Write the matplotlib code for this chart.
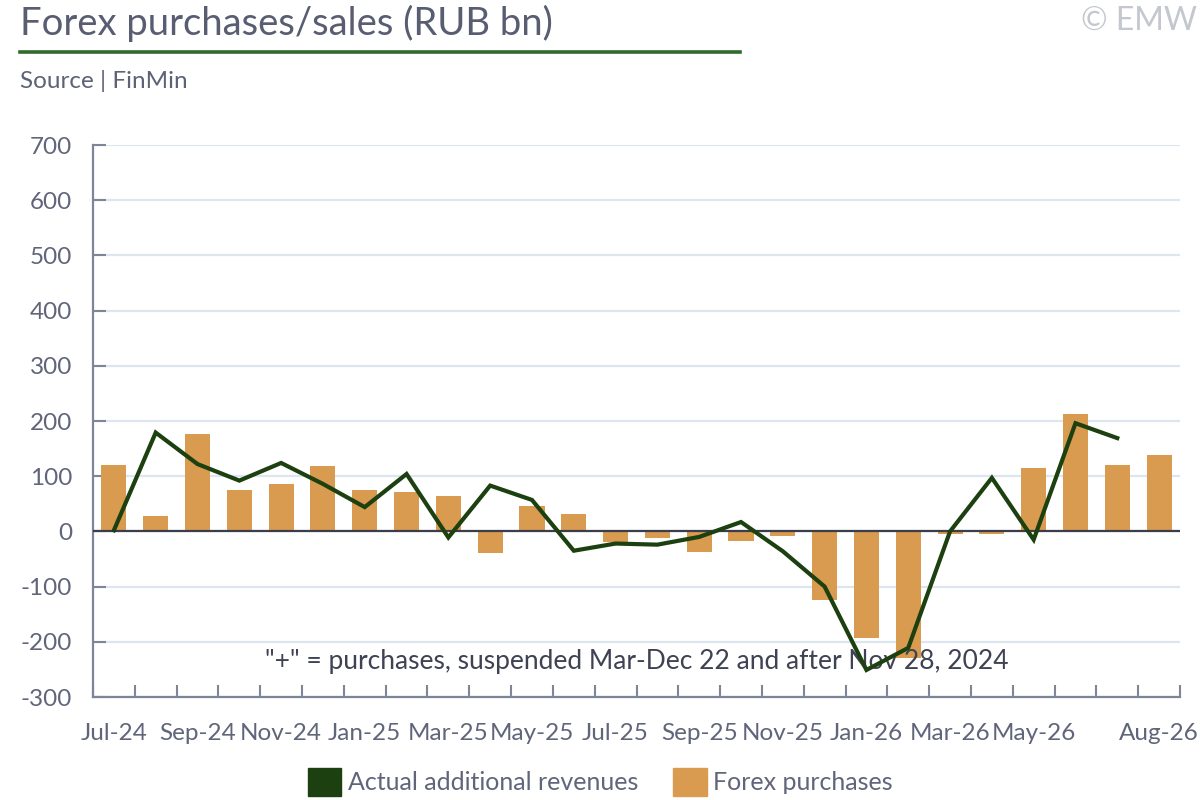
import matplotlib
matplotlib.use("Agg")
import matplotlib.pyplot as plt
from matplotlib.patches import Patch
from matplotlib.lines import Line2D
import numpy as np

plt.rcParams['font.family'] = ['Lato', 'DejaVu Sans']

# monthly data, Jul-24 .. Aug-26
months = ['Jul-24', 'Aug-24', 'Sep-24', 'Oct-24', 'Nov-24', 'Dec-24',
          'Jan-25', 'Feb-25', 'Mar-25', 'Apr-25', 'May-25', 'Jun-25',
          'Jul-25', 'Aug-25', 'Sep-25', 'Oct-25', 'Nov-25', 'Dec-25',
          'Jan-26', 'Feb-26', 'Mar-26', 'Apr-26', 'May-26', 'Jun-26',
          'Jul-26', 'Aug-26']
forex_purchases = [121, 27, 177, 75, 86, 118, 75, 71, 64, -40, 46, 31,
                   -19, -12, -37, -18, -8, -125, -193, -230, -4, -4,
                   114, 212, 121, 139]
# actual additional revenues (no value for Aug-26)
revenues = [2, 179, 122, 92, 124, 86, 44, 104, -11, 83, 57, -35,
            -22, -24, -10, 17, -36, -100, -251, -211, 0, 97, -15,
            196, 169, None]

label_months = ['Jul-24', 'Sep-24', 'Nov-24', 'Jan-25', 'Mar-25', 'May-25',
                'Jul-25', 'Sep-25', 'Nov-25', 'Jan-26', 'Mar-26', 'May-26',
                'Aug-26']
yticks = [-300, -200, -100, 0, 100, 200, 300, 400, 500, 600, 700]

BAR_COLOR = '#d99b4f'
LINE_COLOR = '#1c400f'
TEXT_COLOR = '#60657a'
AXIS_COLOR = '#7d8599'

W, H = 1200, 800
fig = plt.figure(figsize=(12, 8), dpi=100)
ax = fig.add_axes([93 / W, (H - 697) / H, (1180 - 93) / W, (697 - 145) / H])

x = np.arange(len(months))
ax.bar(x, forex_purchases, width=0.6, color=BAR_COLOR, zorder=2)
rev = np.array([np.nan if v is None else v for v in revenues], dtype=float)
ax.plot(x, rev, color=LINE_COLOR, lw=3, zorder=4, solid_joinstyle='miter')
ax.axhline(0, color='#3c3d4a', lw=1.6, zorder=3)

ax.set_xlim(-0.5, len(months) - 0.5)
ax.set_ylim(-300, 700)
ax.set_yticks(yticks)
ax.set_yticklabels([str(v) for v in yticks])
ax.grid(axis='y', color='#dde5ef', lw=1.6, zorder=0)
ax.set_axisbelow(True)

ax.set_xticks([months.index(m) for m in label_months])
ax.set_xticklabels(label_months)
ax.set_xticks(np.arange(-0.5, len(months)), minor=True)
ax.tick_params(axis='x', which='major', length=0, pad=19, labelsize=17.5,
               labelcolor=TEXT_COLOR)
ax.tick_params(axis='x', which='minor', direction='in', length=9, width=1.5,
               color=AXIS_COLOR)
ax.tick_params(axis='y', direction='in', length=9.5, width=1.5,
               color=AXIS_COLOR, pad=15, labelsize=17.5, labelcolor=TEXT_COLOR)

for s in ['top', 'right']:
    ax.spines[s].set_visible(False)
for s in ['left', 'bottom']:
    ax.spines[s].set_color(AXIS_COLOR)
    ax.spines[s].set_linewidth(1.6)

ax.text(0.5, (697 - 662) / (697 - 145),
        '"+" = purchases, suspended Mar-Dec 22 and after Nov 28, 2024',
        transform=ax.transAxes, ha='center', va='center', fontsize=19,
        color='#3f4252', zorder=3)

# header
fig.text(20 / W, 1 - 35 / H, 'Forex purchases/sales (RUB bn)', fontsize=27.5,
         color='#585d71', ha='left', va='baseline')
fig.add_artist(Line2D([20 / W, 740 / W], [1 - 51.5 / H, 1 - 51.5 / H],
                      color='#2f6b2b', lw=2.6))
fig.text(20 / W, 1 - 88 / H, 'Source | FinMin', fontsize=17.5,
         color='#5d6275', ha='left', va='baseline')
fig.text(1197 / W, 1 - 30 / H, '\u00a9 EMW', fontsize=23, color='#c4c7ce',
         ha='right', va='baseline')

handles = [Patch(color=LINE_COLOR, label='Actual additional revenues'),
           Patch(color=BAR_COLOR, label='Forex purchases')]
fig.legend(handles=handles, loc='center', bbox_to_anchor=(0.5, 1 - 782 / H),
           ncol=2, frameon=False, fontsize=18, handlelength=1.35,
           handleheight=1.4, handletextpad=0.25, columnspacing=1.4,
           labelcolor=TEXT_COLOR)

fig.savefig('out.png', dpi=100)
